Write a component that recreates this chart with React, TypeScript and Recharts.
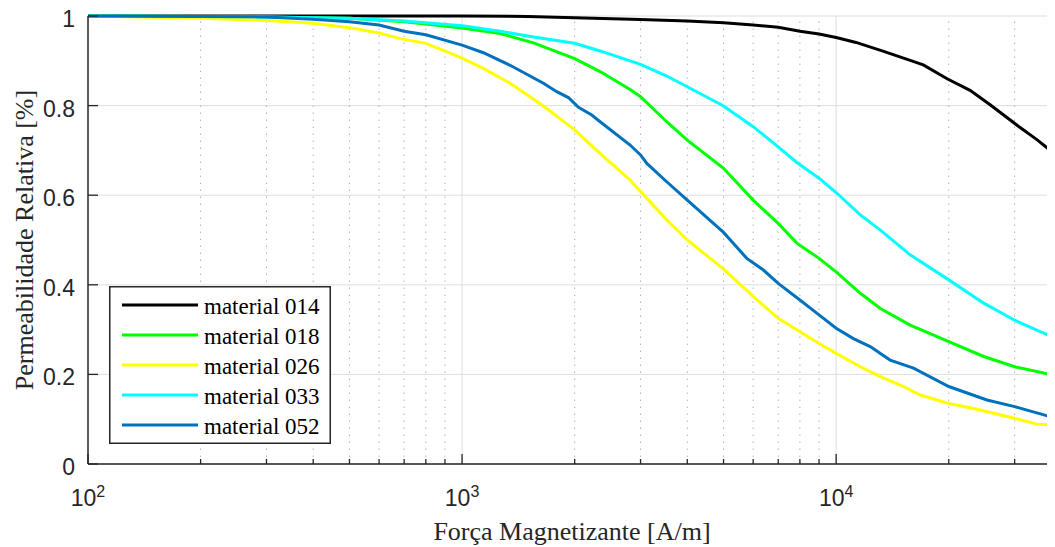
import React from "react";
import {
  LineChart,
  Line,
  XAxis,
  YAxis,
  CartesianGrid,
  ReferenceLine,
  Legend,
  Label,
} from "recharts";

const FONT_SANS = '"Liberation Sans", Arial, sans-serif';
const FONT_SERIF = '"Liberation Serif", "Times New Roman", serif';
const AXIS_COLOR = "#262626";
const GRID_COLOR = "#dedede";
const MINOR_GRID_COLOR = "#b4b4b4";

// magnetising force H [A/m] and relative permeability
const h014 = [100, 200, 500, 1000, 1500, 2000, 3000, 4000, 5000, 6000, 7000, 8000, 9000, 10000, 11300, 13400, 17100, 19800, 22800, 25800, 30700, 34400, 38700];
const mu014 = [1.0, 1.0, 1.0, 1.0, 0.999, 0.996, 0.992, 0.989, 0.985, 0.98, 0.975, 0.966, 0.96, 0.952, 0.941, 0.921, 0.891, 0.86, 0.834, 0.802, 0.754, 0.724, 0.69];

const h018 = [100, 300, 500, 700, 1000, 1264, 1552, 2000, 2339, 2813, 3000, 3524, 4000, 5000, 6000, 7000, 7850, 9000, 10000, 11600, 13130, 15770, 20000, 24800, 30000, 38700];
const mu018 = [1.0, 0.998, 0.995, 0.987, 0.973, 0.961, 0.94, 0.905, 0.876, 0.836, 0.82, 0.764, 0.723, 0.66, 0.589, 0.537, 0.493, 0.459, 0.429, 0.381, 0.347, 0.31, 0.273, 0.24, 0.217, 0.197];

const h026 = [100, 200, 300, 400, 500, 600, 680, 800, 929, 1000, 1140, 1344, 1650, 2000, 2339, 2813, 3000, 3524, 4000, 5000, 6000, 7000, 8000, 9000, 10000, 11600, 13130, 15140, 16780, 20000, 23300, 30000, 34400, 38700];
const mu026 = [1.0, 0.995, 0.99, 0.984, 0.974, 0.962, 0.95, 0.939, 0.917, 0.906, 0.883, 0.85, 0.799, 0.746, 0.693, 0.634, 0.608, 0.545, 0.5, 0.435, 0.374, 0.325, 0.295, 0.269, 0.247, 0.217, 0.195, 0.173, 0.154, 0.135, 0.124, 0.102, 0.089, 0.087];

const h033 = [100, 300, 500, 700, 1000, 1264, 1552, 2000, 2339, 2813, 3000, 3524, 4000, 5000, 6000, 7000, 7850, 9000, 10000, 11600, 13130, 15770, 20000, 24800, 30000, 38700];
const mu033 = [1.0, 0.998, 0.995, 0.989, 0.978, 0.966, 0.953, 0.939, 0.922, 0.9, 0.892, 0.866, 0.842, 0.799, 0.753, 0.708, 0.673, 0.638, 0.606, 0.556, 0.522, 0.467, 0.411, 0.359, 0.321, 0.28];

const h052 = [100, 300, 400, 500, 600, 700, 800, 1000, 1140, 1344, 1650, 1791, 1924, 2047, 2222, 2339, 2813, 3000, 3118, 3524, 4000, 5000, 5770, 6390, 7000, 8000, 9000, 10000, 11120, 12330, 13940, 16100, 20000, 25300, 30000, 38700];
const mu052 = [1.0, 0.998, 0.993, 0.987, 0.98, 0.966, 0.958, 0.935, 0.918, 0.89, 0.85, 0.831, 0.818, 0.796, 0.779, 0.764, 0.712, 0.69, 0.671, 0.63, 0.589, 0.517, 0.459, 0.433, 0.403, 0.366, 0.333, 0.303, 0.28, 0.262, 0.232, 0.214, 0.173, 0.143, 0.128, 0.102];

const X_DOMAIN = [100, 38700];
const X_TICKS = [100, 200, 300, 400, 500, 600, 700, 800, 900, 1000, 2000, 3000, 4000, 5000, 6000, 7000, 8000, 9000, 10000, 20000, 30000];
const Y_TICKS = [0, 0.2, 0.4, 0.6, 0.8, 1];

const toPoints = (h: number[], mu: number[]) => h.map((x, i) => ({ h: x, mu: mu[i] }));

const SERIES = [
  { name: "material 014", color: "#000000", data: toPoints(h014, mu014) },
  { name: "material 018", color: "#00ff00", data: toPoints(h018, mu018) },
  { name: "material 026", color: "#ffff00", data: toPoints(h026, mu026) },
  { name: "material 033", color: "#00ffff", data: toPoints(h033, mu033) },
  { name: "material 052", color: "#0072bd", data: toPoints(h052, mu052) },
];

const isDecade = (v: number) => Math.abs(Math.log10(v) - Math.round(Math.log10(v))) < 1e-9;

const BottomTick = ({ x, y, payload }: any) => {
  const v = payload.value;
  const major = isDecade(v);
  return (
    <g>
      <line x1={x} x2={x} y1={y} y2={y - (major ? 10 : 5)} stroke={AXIS_COLOR} strokeWidth={1.3} />
      {major && (
        <text x={x} y={y + 42} textAnchor="middle" fontFamily={FONT_SANS} fontSize={23} fill={AXIS_COLOR}>
          10
          <tspan dy={-9} fontSize={16}>{Math.round(Math.log10(v))}</tspan>
        </text>
      )}
    </g>
  );
};

const TopTick = ({ x, y, payload }: any) => {
  const major = isDecade(payload.value);
  return <line x1={x} x2={x} y1={y} y2={y + (major ? 10 : 5)} stroke={AXIS_COLOR} strokeWidth={1.3} />;
};

const LeftTick = ({ x, y, payload }: any) => (
  <g>
    <line x1={x} x2={x + 10} y1={y} y2={y} stroke={AXIS_COLOR} strokeWidth={1.3} />
    <text x={x - 13} y={y + 11} textAnchor="end" fontFamily={FONT_SANS} fontSize={23} fill={AXIS_COLOR}>
      {String(payload.value)}
    </text>
  </g>
);

const RightTick = ({ x, y }: any) => (
  <line x1={x} x2={x - 10} y1={y} y2={y} stroke={AXIS_COLOR} strokeWidth={1.3} />
);

const XTitle = ({ viewBox }: any) => (
  <text
    x={viewBox.x + viewBox.width / 2}
    y={viewBox.y + 76}
    textAnchor="middle"
    fontFamily={FONT_SERIF}
    fontSize={26}
    fill={AXIS_COLOR}
  >
    Força Magnetizante [A/m]
  </text>
);

const YTitle = ({ viewBox }: any) => {
  const cx = viewBox.x + 25;
  const cy = viewBox.y + viewBox.height / 2;
  return (
    <text
      x={cx}
      y={cy}
      transform={`rotate(-90 ${cx} ${cy})`}
      textAnchor="middle"
      fontFamily={FONT_SERIF}
      fontSize={26}
      fill={AXIS_COLOR}
    >
      Permeabilidade Relativa [%]
    </text>
  );
};

const LegendBox = ({ payload }: any) => {
  const items = payload && payload.length ? payload : SERIES.map((s) => ({ value: s.name, color: s.color }));
  return (
    <svg width={222} height={158} style={{ display: "block" }}>
      <rect x={0.75} y={0.75} width={220.5} height={156.5} fill="#ffffff" stroke={AXIS_COLOR} strokeWidth={1.5} />
      {items.map((it: any, i: number) => (
        <g key={it.value}>
          <line x1={13} x2={89} y1={19 + i * 30} y2={19 + i * 30} stroke={it.color} strokeWidth={3} />
          <text x={95} y={28 + i * 30} fontFamily={FONT_SERIF} fontSize={23} fill="#000000">
            {it.value}
          </text>
        </g>
      ))}
    </svg>
  );
};

export default function App() {
  return (
    <div
      style={{
        width: 1047,
        height: 547,
        marginTop: -8,
        overflow: "hidden",
        background: "#ffffff",
      }}
    >
      <LineChart width={1050} height={547} margin={{ top: 16, right: 2, bottom: 0, left: 0 }}>
        <CartesianGrid vertical={false} stroke={GRID_COLOR} strokeWidth={1} />
        {X_TICKS.filter((v) => v > X_DOMAIN[0]).map((v) =>
          isDecade(v) ? (
            <ReferenceLine key={v} x={v} stroke={GRID_COLOR} strokeWidth={1} />
          ) : (
            <ReferenceLine key={v} x={v} stroke={MINOR_GRID_COLOR} strokeWidth={1} strokeDasharray="1.5 5.5" />
          )
        )}
        <XAxis
          dataKey="h"
          type="number"
          scale="log"
          domain={X_DOMAIN}
          ticks={X_TICKS}
          interval={0}
          height={83}
          tickSize={0}
          tickMargin={0}
          tickLine={false}
          axisLine={{ stroke: AXIS_COLOR, strokeWidth: 1.5 }}
          tick={BottomTick}
        >
          <Label content={XTitle} />
        </XAxis>
        <XAxis
          xAxisId="top"
          orientation="top"
          type="number"
          scale="log"
          domain={X_DOMAIN}
          ticks={X_TICKS}
          interval={0}
          height={0}
          tickSize={0}
          tickMargin={0}
          tickLine={false}
          axisLine={{ stroke: AXIS_COLOR, strokeWidth: 1.5 }}
          tick={TopTick}
        />
        <YAxis
          type="number"
          domain={[0, 1]}
          ticks={Y_TICKS}
          interval={0}
          width={80}
          tickSize={0}
          tickMargin={0}
          tickLine={false}
          axisLine={{ stroke: AXIS_COLOR, strokeWidth: 1.5 }}
          tick={LeftTick}
        >
          <Label content={YTitle} />
        </YAxis>
        <YAxis
          yAxisId="right"
          orientation="right"
          type="number"
          domain={[0, 1]}
          ticks={Y_TICKS}
          interval={0}
          width={0}
          tickSize={0}
          tickMargin={0}
          tickLine={false}
          axisLine={{ stroke: AXIS_COLOR, strokeWidth: 1.5 }}
          tick={RightTick}
        />
        {SERIES.map((s) => (
          <Line
            key={s.name}
            data={s.data}
            dataKey="mu"
            name={s.name}
            type="linear"
            stroke={s.color}
            strokeWidth={3}
            dot={false}
            activeDot={false}
            isAnimationActive={false}
          />
        ))}
        <Legend
          layout="horizontal"
          align="center"
          verticalAlign="middle"
          content={LegendBox}
          wrapperStyle={{ left: 101, top: 286, width: 222, height: 158 }}
        />
      </LineChart>
    </div>
  );
}
